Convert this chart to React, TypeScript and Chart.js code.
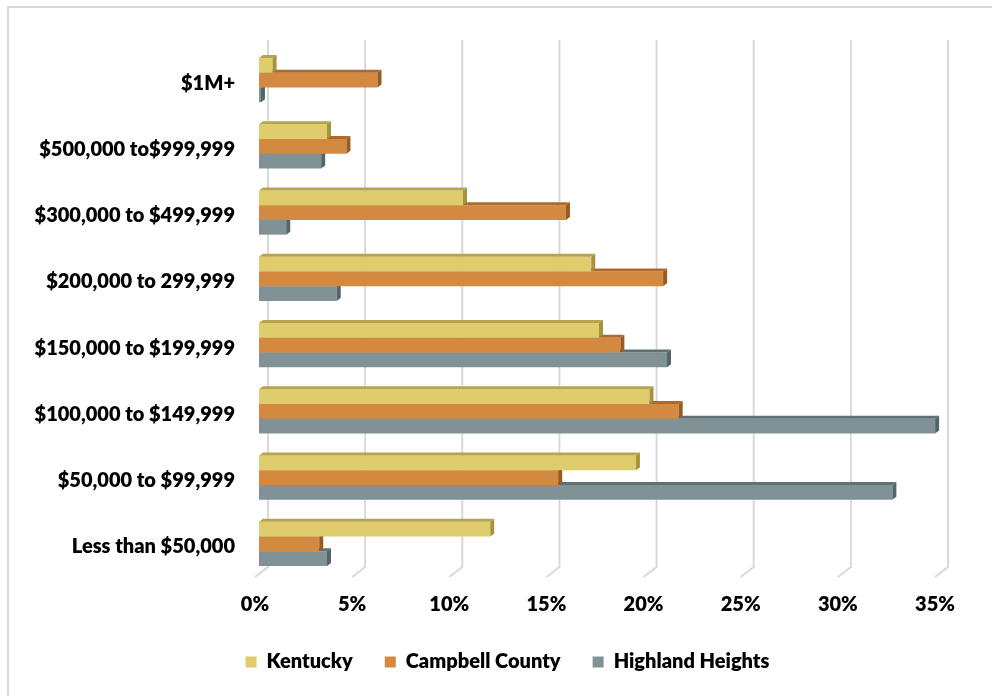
import React, { useEffect, useRef } from 'react';
import { Chart, registerables } from 'chart.js';

Chart.register(...registerables);

const categories = [
  '$1M+',
  '$500,000 to$999,999',
  '$300,000 to $499,999',
  '$200,000 to 299,999',
  '$150,000 to $199,999',
  '$100,000 to $149,999',
  '$50,000 to $99,999',
  'Less than $50,000',
];
const kentucky = [0.7, 3.5, 10.5, 17.1, 17.5, 20.1, 19.4, 11.9];
const campbellCounty = [6.1, 4.5, 15.8, 20.8, 18.6, 21.6, 15.4, 3.1];
const highlandHeights = [0.1, 3.2, 1.4, 4.0, 21.0, 34.8, 32.6, 3.5];
const seriesNames = ['Kentucky', 'Campbell County', 'Highland Heights'];
const xTickValues = [0, 5, 10, 15, 20, 25, 30, 35];

const frontColors = ['#DFCC6C', '#D38940', '#809296'];
const topColors = ['#B7A44E', '#AD6A2C', '#5F7175'];
const sideColors = ['#A69340', '#9A5A22', '#53656A'];

const FONT = 'Lato, "Open Sans", sans-serif';
const FONT_SIZE = 20;
const FONT_WEIGHT = 800;
const DX = 4;
const DY = 3;

const threeDPlugin = {
  id: 'threeD',
  afterLayout(chart: any) {
    if (chart.legend) {
      chart.legend.left = 76;
    }
  },
  beforeDatasetsDraw(chart: any) {
    const { ctx, chartArea } = chart;
    const xs = chart.scales.x;
    ctx.save();
    ctx.strokeStyle = '#d9d9d9';
    ctx.lineWidth = 2;
    ctx.beginPath();
    ctx.moveTo(8, 696);
    ctx.lineTo(8, 7);
    ctx.lineTo(992, 7);
    ctx.stroke();
    xTickValues.forEach((v) => {
      const px = xs.getPixelForValue(v);
      ctx.beginPath();
      ctx.moveTo(px + 9, chartArea.top - 7);
      ctx.lineTo(px + 9, chartArea.bottom - 10);
      ctx.lineTo(px - 4, chartArea.bottom);
      ctx.stroke();
    });
    ctx.restore();
  },
  afterDatasetDraw(chart: any, args: any) {
    const { ctx } = chart;
    const i = args.index;
    ctx.save();
    args.meta.data.forEach((bar: any) => {
      const { x, y, base, height } = bar.getProps(['x', 'y', 'base', 'height'], true);
      const top = y - height / 2;
      const bottom = y + height / 2;
      const x0 = Math.min(base, x);
      const x1 = Math.max(base, x);
      ctx.fillStyle = topColors[i];
      ctx.beginPath();
      ctx.moveTo(x0, top);
      ctx.lineTo(x0 + DX, top - DY);
      ctx.lineTo(x1 + DX, top - DY);
      ctx.lineTo(x1, top);
      ctx.closePath();
      ctx.fill();
      ctx.fillStyle = sideColors[i];
      ctx.beginPath();
      ctx.moveTo(x1, top);
      ctx.lineTo(x1 + DX, top - DY);
      ctx.lineTo(x1 + DX, bottom - DY);
      ctx.lineTo(x1, bottom);
      ctx.closePath();
      ctx.fill();
    });
    ctx.restore();
  },
};

export default function App() {
  const canvasRef = useRef<HTMLCanvasElement | null>(null);

  useEffect(() => {
    document.body.style.margin = '0';
    const canvas = canvasRef.current;
    if (!canvas) return;
    const font = { family: FONT, size: FONT_SIZE, weight: FONT_WEIGHT };
    const chart = new Chart(canvas, {
      type: 'bar',
      data: {
        labels: categories,
        datasets: [kentucky, campbellCounty, highlandHeights].map((d, i) => ({
          label: seriesNames[i],
          data: d,
          backgroundColor: frontColors[i],
          borderWidth: 0,
          categoryPercentage: 0.665,
          barPercentage: 1.0,
        })),
      },
      options: {
        indexAxis: 'y',
        responsive: false,
        animation: false,
        devicePixelRatio: 1,
        layout: { padding: { left: 20, right: 53, top: 47, bottom: 14 } },
        plugins: {
          tooltip: { enabled: false },
          legend: {
            position: 'bottom',
            labels: {
              boxWidth: 11,
              boxHeight: 11,
              padding: 32,
              color: '#000',
              font,
            },
          },
        },
        scales: {
          x: {
            min: 0,
            max: 35,
            grid: { display: false, drawTicks: false },
            border: { display: false },
            ticks: {
              stepSize: 5,
              padding: 16,
              labelOffset: -4,
              color: '#000',
              font,
              callback: (v: any) => v + '%',
            },
            afterFit: (scale: any) => {
              scale.height = 43;
            },
          },
          y: {
            grid: { display: false, drawTicks: false },
            border: { display: false },
            ticks: {
              padding: 24,
              labelOffset: 3,
              color: '#000',
              font,
            },
            afterFit: (scale: any) => {
              scale.width = 239;
            },
          },
        },
      },
      plugins: [threeDPlugin],
    });
    return () => chart.destroy();
  }, []);

  return (
    <div style={{ width: 992, height: 696, background: '#fff' }}>
      <canvas ref={canvasRef} width={992} height={696} style={{ display: 'block' }} />
    </div>
  );
}
